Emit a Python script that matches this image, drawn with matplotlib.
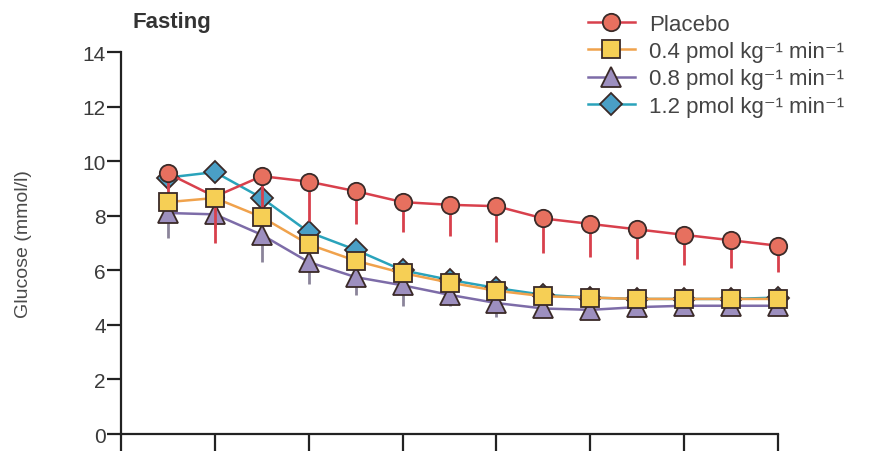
import matplotlib
matplotlib.use("Agg")
import matplotlib.pyplot as plt
import numpy as np

plt.rcParams['font.family'] = ['Liberation Sans', 'DejaVu Sans']

# Sampling points (every half tick interval)
timepoints = np.arange(1, 15)

placebo = [9.55, 8.7, 9.45, 9.25, 8.9, 8.5, 8.4, 8.35, 7.9, 7.7, 7.5, 7.3, 7.1, 6.9]
placebo_err = [0.9, 1.7, 1.55, 1.45, 1.2, 1.1, 1.15, 1.3, 1.25, 1.2, 1.1, 1.1, 1.0, 0.95]

dose_04 = [8.5, 8.65, 7.95, 6.95, 6.35, 5.9, 5.55, 5.25, 5.05, 5.0, 4.95, 4.95, 4.95, 4.95]
dose_04_err = [0.3, 0.3, 0.3, 0.3, 0.3, 0.3, 0.2, 0.2, 0.2, 0.2, 0.2, 0.2, 0.2, 0.2]

dose_08 = [8.1, 8.05, 7.3, 6.3, 5.75, 5.45, 5.1, 4.8, 4.6, 4.55, 4.65, 4.7, 4.7, 4.7]
dose_08_err = [0.9, 0.5, 1.0, 0.8, 0.65, 0.75, 0.4, 0.5, 0.3, 0.2, 0.2, 0.2, 0.2, 0.2]

dose_12 = [9.4, 9.6, 8.65, 7.4, 6.75, 6.0, 5.65, 5.35, 5.1, 5.0, 4.95, 4.95, 4.95, 5.0]
dose_12_err = [0.3, 0.3, 0.3, 0.3, 0.3, 0.3, 0.2, 0.2, 0.2, 0.2, 0.2, 0.2, 0.2, 0.2]

labels = ['Placebo',
          '0.4 pmol kg⁻¹ min⁻¹',
          '0.8 pmol kg⁻¹ min⁻¹',
          '1.2 pmol kg⁻¹ min⁻¹']

y_ticks = [0, 2, 4, 6, 8, 10, 12, 14]
x_ticks = [0, 2, 4, 6, 8, 10, 12, 14]

fig = plt.figure(figsize=(8.84, 4.52), dpi=100)
ax = fig.add_axes([0.1369, 0.0376, 0.7432, 0.8451])

edge = '#3a2a28'
series = [
    # values, errors, marker, face, line, error colour, size, zorder, label
    (dose_12, dose_12_err, 'D', '#4a9fc6', '#2aa3bb', '#2aa3bb', 11.5, 3, labels[3]),
    (dose_08, dose_08_err, '^', '#9d8fbf', '#7d6ca8', '#8b849a', 14, 4, labels[2]),
    (placebo, placebo_err, 'o', '#e7705f', '#d8404c', '#d8404c', 12.5, 5, labels[0]),
    (dose_04, dose_04_err, 's', '#f6cf55', '#f0a24c', '#f0a24c', 13.5, 6, labels[1]),
]

handles = {}
for vals, err, mk, face, line, ecol, ms, z, lab in series:
    lower = np.array(err)
    ax.errorbar(timepoints, vals, yerr=[lower, np.zeros_like(lower)],
                fmt='none', ecolor=ecol, elinewidth=2.0, capsize=0, zorder=z,
                clip_on=False)
    h, = ax.plot(timepoints, vals, '-', color=line, lw=1.8, marker=mk,
                 markersize=ms, markerfacecolor=face, markeredgecolor=edge,
                 markeredgewidth=1.3, zorder=z + 0.5, clip_on=False)
    handles[lab] = h

ax.set_xlim(0, 14)
ax.set_ylim(0, 14)
ax.set_yticks(y_ticks)
ax.set_yticklabels([str(t) for t in y_ticks])
ax.set_xticks(x_ticks)
ax.set_xticklabels([])
for side in ('top', 'right'):
    ax.spines[side].set_visible(False)
for side in ('left', 'bottom'):
    ax.spines[side].set_linewidth(1.6)
    ax.spines[side].set_color('#222222')
ax.tick_params(axis='y', direction='out', length=10, width=1.6,
               color='#222222', labelsize=15, labelcolor='#3a3a3a', pad=1)
ax.tick_params(axis='x', direction='out', length=14, width=1.6,
               color='#222222')
ax.set_ylabel('Glucose (mmol/l)', fontsize=14, color='#4a4a4a')
ax.yaxis.set_label_coords(-0.135, 0.5)
ax.patch.set_visible(False)

fig.text(0.150, 0.951, 'Fasting', fontsize=16, fontweight='bold',
         color='#333333', ha='left', va='center')

leg = fig.legend([handles[l] for l in labels], labels, loc='upper left',
                 bbox_to_anchor=(0.665, 0.967), frameon=False, fontsize=16,
                 handlelength=2.1, handletextpad=0.65, labelspacing=0.28,
                 borderpad=0, borderaxespad=0, labelcolor='#444444')

fig.savefig('out.png', dpi=100)
